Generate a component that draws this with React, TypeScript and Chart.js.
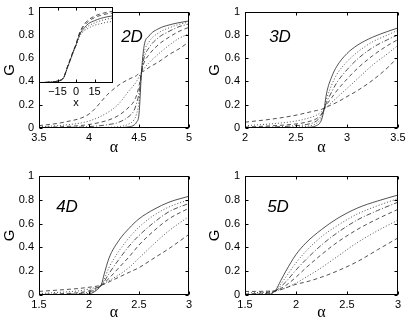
import React, { useEffect, useRef } from 'react';
import { Chart, registerables } from 'chart.js';
Chart.register(...registerables);

// ---------- shared ticks ----------
const yTicks = [0, 0.2, 0.4, 0.6, 0.8, 1];
const yTickLabels = ['0', '0.2', '0.4', '0.6', '0.8', '1'];
const lineStyles = ['solid', 'dotted', 'dashdot', 'dashed', 'dotted', 'dashed'];

// ---------- 2D ----------
const xTicks2D = [3.5, 4, 4.5, 5];
const xTickLabels2D = ['3.5', '4', '4.5', '5'];
const alpha2D = [3.5, 3.75, 4.0, 4.2, 4.3, 4.4, 4.45, 4.475, 4.5, 4.525, 4.55, 4.6, 4.7, 4.8, 4.9, 5.0];
const g2D_a = [0, 0, 0, 0.001, 0.003, 0.01, 0.025, 0.05, 0.12, 0.48, 0.7, 0.79, 0.855, 0.885, 0.905, 0.92];
const g2D_b = [0, 0, 0.002, 0.006, 0.012, 0.035, 0.07, 0.12, 0.22, 0.48, 0.64, 0.74, 0.82, 0.86, 0.89, 0.91];
const g2D_c = [0.002, 0.005, 0.012, 0.03, 0.05, 0.1, 0.15, 0.21, 0.3, 0.48, 0.6, 0.69, 0.78, 0.83, 0.87, 0.895];
const g2D_d = [0.005, 0.012, 0.03, 0.07, 0.11, 0.18, 0.23, 0.28, 0.36, 0.48, 0.56, 0.63, 0.72, 0.78, 0.83, 0.865];
const g2D_e = [0.01, 0.025, 0.06, 0.14, 0.21, 0.32, 0.37, 0.4, 0.44, 0.48, 0.51, 0.56, 0.64, 0.71, 0.77, 0.81];
const g2D_f = [0.02, 0.05, 0.12, 0.3, 0.37, 0.42, 0.44, 0.45, 0.47, 0.48, 0.49, 0.52, 0.57, 0.63, 0.68, 0.74];

// ---------- 2D inset ----------
const xTicksInset = [-15, 0, 15];
const xTickLabelsInset = ['\u221215', '0', '15'];
const xInset = [-30, -25, -20, -15, -10, -7, -4, -2, 0, 2, 4, 7, 10, 15, 20, 25, 30];
const inset_a = [0.005, 0.008, 0.012, 0.025, 0.075, 0.21, 0.34, 0.43, 0.51, 0.62, 0.7, 0.78, 0.83, 0.88, 0.91, 0.93, 0.945];
const inset_b = [0.005, 0.008, 0.012, 0.025, 0.075, 0.21, 0.34, 0.43, 0.5, 0.61, 0.69, 0.76, 0.81, 0.86, 0.89, 0.91, 0.92];
const inset_c = [0.005, 0.008, 0.012, 0.025, 0.07, 0.2, 0.33, 0.42, 0.5, 0.6, 0.67, 0.73, 0.78, 0.82, 0.85, 0.87, 0.885];
const inset_d = [0.005, 0.008, 0.012, 0.025, 0.07, 0.2, 0.33, 0.42, 0.5, 0.59, 0.66, 0.71, 0.75, 0.79, 0.82, 0.84, 0.855];
const inset_e = [0.005, 0.008, 0.012, 0.025, 0.07, 0.2, 0.33, 0.42, 0.49, 0.58, 0.64, 0.69, 0.72, 0.76, 0.78, 0.8, 0.81];
const insetStyles = ['dashed', 'dashed', 'solid', 'dotted', 'dotted'];

// ---------- 3D ----------
const xTicks3D = [2, 2.5, 3, 3.5];
const xTickLabels3D = ['2', '2.5', '3', '3.5'];
const alpha3D = [2.0, 2.25, 2.5, 2.6, 2.7, 2.75, 2.775, 2.8, 2.85, 2.9, 3.0, 3.1, 3.25, 3.4, 3.5];
const g3D_a = [0, 0, 0.002, 0.005, 0.02, 0.07, 0.16, 0.3, 0.44, 0.53, 0.64, 0.71, 0.78, 0.83, 0.86];
const g3D_b = [0, 0.002, 0.008, 0.015, 0.04, 0.09, 0.16, 0.25, 0.37, 0.46, 0.57, 0.65, 0.74, 0.8, 0.84];
const g3D_c = [0.003, 0.008, 0.02, 0.03, 0.06, 0.11, 0.16, 0.22, 0.31, 0.39, 0.5, 0.59, 0.69, 0.76, 0.8];
const g3D_d = [0.008, 0.018, 0.035, 0.05, 0.08, 0.12, 0.16, 0.2, 0.26, 0.32, 0.42, 0.51, 0.62, 0.71, 0.76];
const g3D_e = [0.02, 0.035, 0.06, 0.08, 0.11, 0.14, 0.16, 0.18, 0.22, 0.26, 0.34, 0.42, 0.54, 0.64, 0.71];
const g3D_f = [0.05, 0.075, 0.11, 0.13, 0.15, 0.16, 0.17, 0.18, 0.2, 0.22, 0.27, 0.32, 0.41, 0.52, 0.61];

// ---------- 4D ----------
const xTicks4D = [1.5, 2, 2.5, 3];
const xTickLabels4D = ['1.5', '2', '2.5', '3'];
const alpha4D = [1.5, 1.75, 1.9, 2.0, 2.05, 2.1, 2.125, 2.15, 2.2, 2.3, 2.4, 2.5, 2.65, 2.8, 3.0];
const g4D_a = [0, 0, 0.002, 0.008, 0.025, 0.06, 0.09, 0.17, 0.31, 0.46, 0.56, 0.64, 0.72, 0.78, 0.83];
const g4D_b = [0, 0.002, 0.006, 0.015, 0.03, 0.06, 0.09, 0.13, 0.23, 0.37, 0.48, 0.57, 0.67, 0.74, 0.8];
const g4D_c = [0.002, 0.006, 0.012, 0.025, 0.04, 0.065, 0.085, 0.11, 0.18, 0.3, 0.41, 0.5, 0.61, 0.7, 0.77];
const g4D_d = [0.005, 0.012, 0.02, 0.035, 0.05, 0.07, 0.085, 0.1, 0.14, 0.23, 0.32, 0.42, 0.54, 0.64, 0.73];
const g4D_e = [0.012, 0.025, 0.035, 0.05, 0.06, 0.072, 0.083, 0.095, 0.12, 0.17, 0.23, 0.31, 0.43, 0.54, 0.66];
const g4D_f = [0.03, 0.045, 0.055, 0.065, 0.07, 0.078, 0.083, 0.09, 0.11, 0.15, 0.19, 0.23, 0.31, 0.39, 0.51];

// ---------- 5D ----------
const xTicks5D = [1.5, 2, 2.5, 3];
const xTickLabels5D = ['1.5', '2', '2.5', '3'];
const alpha5D = [1.5, 1.6, 1.7, 1.75, 1.8, 1.85, 1.9, 2.0, 2.1, 2.25, 2.4, 2.6, 2.8, 3.0];
const g5D_a = [0, 0, 0.002, 0.008, 0.04, 0.12, 0.2, 0.34, 0.44, 0.55, 0.64, 0.73, 0.79, 0.84];
const g5D_b = [0, 0.002, 0.006, 0.012, 0.035, 0.09, 0.15, 0.27, 0.37, 0.49, 0.58, 0.68, 0.75, 0.81];
const g5D_c = [0.003, 0.006, 0.012, 0.018, 0.035, 0.07, 0.11, 0.21, 0.3, 0.42, 0.52, 0.63, 0.71, 0.78];
const g5D_d = [0.008, 0.012, 0.02, 0.025, 0.035, 0.055, 0.08, 0.15, 0.23, 0.34, 0.44, 0.55, 0.64, 0.72];
const g5D_e = [0.015, 0.02, 0.025, 0.03, 0.035, 0.045, 0.06, 0.1, 0.15, 0.23, 0.32, 0.44, 0.54, 0.63];
const g5D_f = [0.03, 0.03, 0.032, 0.033, 0.035, 0.045, 0.06, 0.09, 0.11, 0.15, 0.2, 0.28, 0.38, 0.48];

const DASH: Record<string, number[]> = {
  solid: [],
  dotted: [1, 2],
  dashed: [4, 3],
  dashdot: [5, 2, 1, 2],
};

const SANS = "'Liberation Sans', Arial, Helvetica, sans-serif";

const framePlugin = {
  id: 'frame',
  beforeDatasetsDraw(chart: any, _a: any, opts: any) {
    if (opts && opts.whiteBg) {
      const { ctx, chartArea: a } = chart;
      ctx.save();
      ctx.fillStyle = '#fff';
      ctx.fillRect(a.left, a.top, a.right - a.left, a.bottom - a.top);
      ctx.restore();
    }
  },
  afterDatasetsDraw(chart: any, _a: any, opts: any) {
    const { ctx, chartArea: a } = chart;
    ctx.save();
    ctx.strokeStyle = '#000';
    ctx.lineWidth = 1;
    ctx.setLineDash([]);
    const L = Math.round(a.left) + 0.5;
    const T = Math.round(a.top) + 0.5;
    const R = Math.round(a.right) - 0.5;
    const B = Math.round(a.bottom) - 0.5;
    ctx.strokeRect(L, T, R - L, B - T);
    const tl = 3;
    ctx.beginPath();
    const xs = chart.scales.x;
    for (const t of xs.ticks) {
      const px = Math.round(xs.getPixelForValue(t.value)) + 0.5;
      ctx.moveTo(px, B); ctx.lineTo(px, B - tl);
      ctx.moveTo(px, T); ctx.lineTo(px, T + tl);
    }
    if (opts && opts.yTicksOn) {
      const ys = chart.scales.y;
      for (const t of ys.ticks) {
        const py = Math.round(ys.getPixelForValue(t.value)) + 0.5;
        ctx.moveTo(L, py); ctx.lineTo(L + tl, py);
        ctx.moveTo(R, py); ctx.lineTo(R - tl, py);
      }
    }
    ctx.stroke();
    if (opts && opts.label) {
      ctx.fillStyle = '#000';
      ctx.font = `italic 17px ${SANS}`;
      ctx.textAlign = 'center';
      ctx.textBaseline = 'middle';
      ctx.fillText(opts.label, a.left + opts.labelPos[0], a.top + opts.labelPos[1]);
    }
    ctx.restore();
  },
};

type PanelProps = {
  left: number; top: number; w: number; h: number;
  area: number[];
  xs: number[]; series: number[][]; styles: string[];
  xMin: number; xMax: number; xTicks: number[]; xTickLabels: string[];
  showY: boolean;
  xTitle: string; xTitleFont: any; xTitlePadBottom: number;
  xTickPad: number;
  label?: string; labelPos?: number[];
  whiteBg?: boolean;
};

function Panel(p: PanelProps) {
  const ref = useRef<HTMLCanvasElement>(null);
  useEffect(() => {
    const c = ref.current as HTMLCanvasElement;
    const [al, at, ar, ab] = p.area;
    const font = { family: SANS, size: 11 };
    const chart = new Chart(c, {
      type: 'line',
      data: {
        datasets: p.series.map((s, i) => ({
          data: s.map((y, j) => ({ x: p.xs[j], y })),
          borderColor: '#262626',
          borderWidth: 0.8,
          borderDash: DASH[p.styles[i]],
          pointRadius: 0,
          fill: false,
          cubicInterpolationMode: 'monotone',
        })),
      },
      options: {
        animation: false,
        responsive: false,
        devicePixelRatio: 1,
        layout: { padding: { top: at, right: p.w - ar, bottom: 0, left: 0 } },
        plugins: {
          legend: { display: false },
          tooltip: { enabled: false },
          frame: { label: p.label, labelPos: p.labelPos, whiteBg: p.whiteBg, yTicksOn: p.showY },
        },
        scales: {
          x: {
            type: 'linear',
            min: p.xMin,
            max: p.xMax,
            afterBuildTicks: (s: any) => { s.ticks = p.xTicks.map((v) => ({ value: v })); },
            afterFit: (s: any) => { s.height = p.h - ab; },
            grid: { display: false, drawTicks: false },
            border: { display: false },
            ticks: {
              padding: p.xTickPad,
              color: '#000',
              font,
              autoSkip: false,
              maxRotation: 0,
              minRotation: 0,
              callback: (v: any) => {
                const k = p.xTicks.indexOf(Number(v));
                return k >= 0 ? p.xTickLabels[k] : '';
              },
            },
            title: {
              display: true,
              text: p.xTitle,
              color: '#000',
              font: p.xTitleFont,
              padding: { top: 0, bottom: p.xTitlePadBottom },
            },
          },
          y: {
            type: 'linear',
            display: p.showY,
            min: 0,
            max: 1,
            afterBuildTicks: (s: any) => { s.ticks = yTicks.map((v) => ({ value: v })); },
            afterFit: (s: any) => { s.width = al; },
            grid: { display: false, drawTicks: false },
            border: { display: false },
            ticks: {
              padding: 5,
              color: '#000',
              font,
              autoSkip: false,
              callback: (v: any) => {
                const k = yTicks.indexOf(Number(v));
                return k >= 0 ? yTickLabels[k] : '';
              },
            },
            title: {
              display: true,
              text: 'G',
              color: '#000',
              font: { family: SANS, size: 15 },
              padding: { top: 1, bottom: 0 },
            },
          },
        },
      },
      plugins: [framePlugin],
    } as any);
    return () => chart.destroy();
  }, []);
  return (
    <canvas
      ref={ref}
      width={p.w}
      height={p.h}
      style={{ position: 'absolute', left: p.left, top: p.top, width: p.w, height: p.h }}
    />
  );
}

const alphaFont = { family: "'Liberation Serif', 'Times New Roman', serif", size: 16 };

export default function App() {
  return (
    <div style={{ position: 'absolute', left: 0, top: 0, width: 409, height: 325, background: '#fff', overflow: 'hidden' }}>
      <Panel
        left={0} top={0} w={205} h={162} area={[39, 7, 189, 128]}
        xs={alpha2D} series={[g2D_a, g2D_b, g2D_c, g2D_d, g2D_e, g2D_f]} styles={lineStyles}
        xMin={3.5} xMax={5} xTicks={xTicks2D} xTickLabels={xTickLabels2D}
        showY={true} xTitle={'\u03b1'} xTitleFont={alphaFont} xTitlePadBottom={5} xTickPad={3}
        label="2D" labelPos={[93, 26]}
      />
      <Panel
        left={0} top={0} w={130} h={112} area={[39, 7, 113, 83]}
        xs={xInset} series={[inset_a, inset_b, inset_c, inset_d, inset_e]} styles={insetStyles}
        xMin={-30} xMax={30} xTicks={xTicksInset} xTickLabels={xTickLabelsInset}
        showY={false} xTitle="x" xTitleFont={{ family: SANS, size: 11 }} xTitlePadBottom={2} xTickPad={2}
        whiteBg={true}
      />
      <Panel
        left={205} top={0} w={204} h={162} area={[40, 7, 193, 128]}
        xs={alpha3D} series={[g3D_a, g3D_b, g3D_c, g3D_d, g3D_e, g3D_f]} styles={lineStyles}
        xMin={2} xMax={3.5} xTicks={xTicks3D} xTickLabels={xTickLabels3D}
        showY={true} xTitle={'\u03b1'} xTitleFont={alphaFont} xTitlePadBottom={5} xTickPad={3}
        label="3D" labelPos={[35, 26]}
      />
      <Panel
        left={0} top={162} w={205} h={163} area={[39, 14, 189, 133]}
        xs={alpha4D} series={[g4D_a, g4D_b, g4D_c, g4D_d, g4D_e, g4D_f]} styles={lineStyles}
        xMin={1.5} xMax={3} xTicks={xTicks4D} xTickLabels={xTickLabels4D}
        showY={true} xTitle={'\u03b1'} xTitleFont={alphaFont} xTitlePadBottom={3} xTickPad={3}
        label="4D" labelPos={[28, 31]}
      />
      <Panel
        left={205} top={162} w={204} h={163} area={[40, 14, 193, 133]}
        xs={alpha5D} series={[g5D_a, g5D_b, g5D_c, g5D_d, g5D_e, g5D_f]} styles={lineStyles}
        xMin={1.5} xMax={3} xTicks={xTicks5D} xTickLabels={xTickLabels5D}
        showY={true} xTitle={'\u03b1'} xTitleFont={alphaFont} xTitlePadBottom={3} xTickPad={3}
        label="5D" labelPos={[33, 31]}
      />
    </div>
  );
}
